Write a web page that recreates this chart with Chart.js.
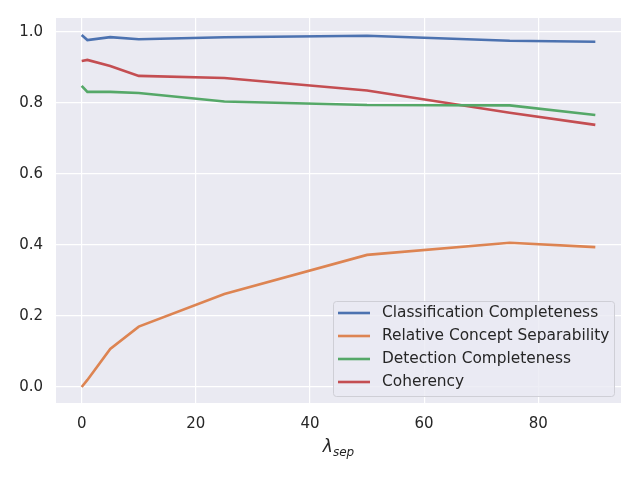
<!DOCTYPE html>
<html lang="en">
<head>
  <meta charset="UTF-8">
  <title>Completeness vs lambda_sep</title>
  <script src="https://cdn.jsdelivr.net/npm/chart.js"></script>
  <style>
    body {
      margin: 0;
      background: #ffffff;
    }
    #wrap {
      width: 640px;
      height: 480px;
    }
  </style>
</head>
<body>
  <div id="wrap">
    <canvas id="sepChart" width="640" height="480"></canvas>
  </div>

<script>
// valores
const lambdaSep = [0, 1, 5, 10, 25, 50, 75, 90];
const classCompleteness = [0.991, 0.977, 0.985, 0.979, 0.985, 0.989, 0.975, 0.972];
const relSeparability = [0.0, 0.02, 0.107, 0.170, 0.262, 0.372, 0.406, 0.394];
const detCompleteness = [0.848, 0.831, 0.831, 0.828, 0.804, 0.794, 0.793, 0.766];
const coherency = [0.918, 0.921, 0.904, 0.876, 0.870, 0.835, 0.772, 0.738];

const seriesNames = ['Classification Completeness', 'Relative Concept Separability', 'Detection Completeness', 'Coherency'];
const seriesColors = ['#4C72B0', '#DD8452', '#55A868', '#C44E52'];
const xTicks = [0, 20, 40, 60, 80];
const yTicks = [0.0, 0.2, 0.4, 0.6, 0.8, 1.0];

const FONT = "'DejaVu Sans', sans-serif";
const TEXT = '#262626';

function toPoints(ys) {
  return lambdaSep.map((x, i) => ({ x: x, y: ys[i] }));
}

const allSeries = [classCompleteness, relSeparability, detCompleteness, coherency];

// fondo gris del área de trazado (estilo darkgrid)
const plotBackground = {
  id: 'plotBackground',
  beforeDraw(chart) {
    const { ctx, chartArea: a } = chart;
    ctx.save();
    ctx.fillStyle = '#EAEAF2';
    ctx.fillRect(a.left, a.top, a.right - a.left, a.bottom - a.top);
    ctx.restore();
  }
};

// etiqueta del eje x con subíndice
const xLabel = {
  id: 'xLabel',
  afterDraw(chart) {
    const { ctx, chartArea: a } = chart;
    const cx = (a.left + a.right) / 2;
    const y = 448;
    ctx.save();
    ctx.fillStyle = TEXT;
    ctx.textBaseline = 'middle';
    ctx.font = 'italic 17px ' + FONT;
    const w1 = ctx.measureText('λ').width;
    ctx.font = 'italic 12px ' + FONT;
    const w2 = ctx.measureText('sep').width;
    const x0 = cx - (w1 + w2) / 2;
    ctx.font = 'italic 17px ' + FONT;
    ctx.textAlign = 'left';
    ctx.fillText('λ', x0, y);
    ctx.font = 'italic 12px ' + FONT;
    ctx.fillText('sep', x0 + w1, y + 5);
    ctx.restore();
  }
};

// leyenda dentro del gráfico, abajo a la derecha
const innerLegend = {
  id: 'innerLegend',
  afterDraw(chart) {
    const { ctx, chartArea: a } = chart;
    const right = a.right - 7;
    const bottom = a.bottom - 7;
    const boxW = 281;
    const boxH = 95;
    const left = right - boxW;
    const top = bottom - boxH;
    ctx.save();
    ctx.fillStyle = 'rgba(234,234,242,0.8)';
    ctx.strokeStyle = '#cfcfd6';
    ctx.lineWidth = 1;
    ctx.beginPath();
    ctx.roundRect(left + 0.5, top + 0.5, boxW, boxH, 3);
    ctx.fill();
    ctx.stroke();
    ctx.font = '15.4px ' + FONT;
    ctx.textBaseline = 'middle';
    ctx.textAlign = 'left';
    chart.data.datasets.forEach((ds, i) => {
      const yy = top + 12 + i * 23;
      ctx.strokeStyle = ds.borderColor;
      ctx.lineWidth = 2.6;
      ctx.beginPath();
      ctx.moveTo(left + 5, yy);
      ctx.lineTo(left + 37, yy);
      ctx.stroke();
      ctx.fillStyle = TEXT;
      ctx.fillText(ds.label, left + 49, yy);
    });
    ctx.restore();
  }
};

new Chart(document.getElementById('sepChart'), {
  type: 'line',
  data: {
    datasets: seriesNames.map((name, i) => ({
      label: name,
      data: toPoints(allSeries[i]),
      borderColor: seriesColors[i],
      backgroundColor: seriesColors[i],
      borderWidth: 2.6,
      pointRadius: 0,
      tension: 0,
      fill: false
    }))
  },
  options: {
    responsive: false,
    animation: false,
    devicePixelRatio: 1,
    layout: {
      padding: { top: 18, right: 19, left: 0, bottom: 0 }
    },
    plugins: {
      legend: { display: false },
      tooltip: { enabled: false }
    },
    scales: {
      x: {
        type: 'linear',
        min: -4.5,
        max: 94.5,
        afterBuildTicks(scale) {
          scale.ticks = xTicks.map(v => ({ value: v }));
        },
        afterFit(scale) {
          scale.height = 77;
          scale.paddingLeft = 0;
          scale.paddingRight = 0;
        },
        grid: { color: '#ffffff', lineWidth: 1.2, drawTicks: false },
        border: { display: false },
        ticks: {
          padding: 12,
          color: TEXT,
          font: { family: FONT, size: 15 },
          callback: v => String(v)
        }
      },
      y: {
        type: 'linear',
        min: -0.045,
        max: 1.039,
        afterBuildTicks(scale) {
          scale.ticks = yTicks.map(v => ({ value: v }));
        },
        afterFit(scale) {
          scale.width = 56;
          scale.paddingTop = 0;
          scale.paddingBottom = 0;
        },
        grid: { color: '#ffffff', lineWidth: 1.2, drawTicks: false },
        border: { display: false },
        ticks: {
          padding: 13,
          color: TEXT,
          font: { family: FONT, size: 15 },
          callback: v => v.toFixed(1)
        }
      }
    }
  },
  plugins: [plotBackground, xLabel, innerLegend]
});
</script>
</body>
</html>
